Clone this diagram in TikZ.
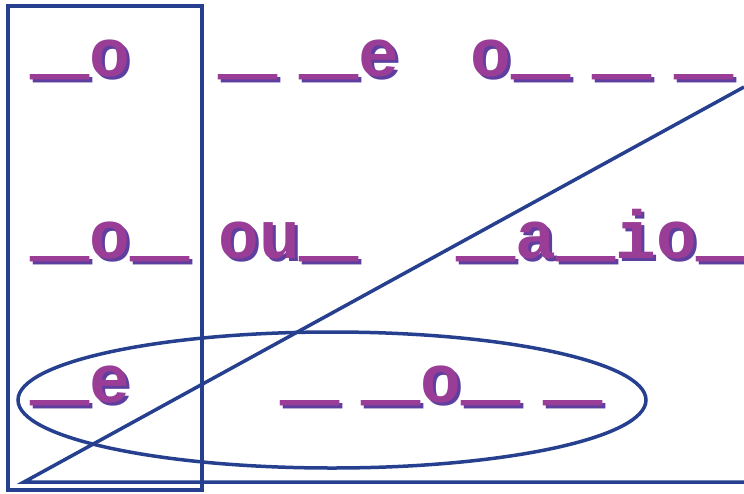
\documentclass[tikz,border=0pt]{standalone}
\usepackage{fontspec}
\usepackage{graphicx}
\usepackage{tikz}
\usetikzlibrary{positioning}
\newfontfamily\wordfont[WordSpace=0.55]{Liberation Mono}
\definecolor{wordpurple}{HTML}{993D96}
\definecolor{wordback}{HTML}{5E3FA0}
\definecolor{lineblue}{HTML}{26408F}
\newcommand\us{\raisebox{9pt}{\scalebox{1.45}[1.7]{\_}}}

\begin{document}
\begin{tikzpicture}[x=1pt,y=-1pt]
\tikzset{word/.style = {anchor=base west, inner sep=0pt, text=wordpurple,
  font=\wordfont\bfseries\fontsize{68}{68}\selectfont}}
\tikzset{wordback/.style = {word, text=wordback}}
\tikzset{frame/.style = {draw=lineblue, line width=3.5pt}}
\useasboundingbox (0,0) rectangle (744,493);
% words, shadow first
\foreach \n/\x/\y/\t in {w11/30/76/{\us o}, w12/218/76/{\us\ \us e},
    w13/470/76/{o\us\ \us\ \us}, w21/30/258/{\us o\us}, w22/218/258/{ou\us},
    w23/456/258/{\us a\us io\us}, w31/30/402/{\us e}, w32/280/402/{\us\ \us o\us\ \us}}{
  \node[wordback] at (\x+3,\y+3) {\t};
  \node[word] (\n) at (\x,\y) {\t};
}
% lines
\coordinate (apex) at (24,482);
\coordinate (top) at (744,87);
\coordinate (end) at (744,482);
\draw[frame] (8,6) rectangle (202,490);
\draw[frame] (end) -- (apex) -- (top);
\draw[frame] (332,400) ellipse [x radius=314, y radius=68];
\end{tikzpicture}
\end{document}
